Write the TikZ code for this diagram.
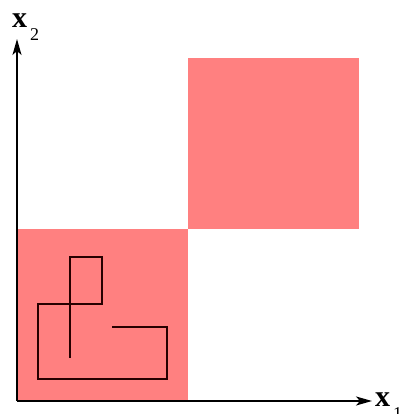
\documentclass[tikz,border=0pt]{standalone}
\usepackage{fontspec}
\setmainfont{Liberation Serif}
\usetikzlibrary{arrows.meta}
\definecolor{boxPink}{HTML}{FF8080}

\begin{document}
\begin{tikzpicture}[x=1pt, y=1pt,
    region/.style={fill=boxPink, draw=none},
    axis/.style={-{Stealth[length=16pt, width=9pt, inset=4pt]}, line width=1.3pt},
    walk/.style={line width=1.6pt, black!85!red, line join=miter},
    lbl/.style={font=\fontsize{30}{30}\selectfont, inner sep=0pt, anchor=base west}]
    \useasboundingbox (0,0) rectangle (404,414);
    \fill[region] (17,13) rectangle (188,185);
    \fill[region] (188,185) rectangle (359,356);
    \draw[walk] (70,56) -- (70,157) -- (102,157) -- (102,110) -- (38,110)
      -- (38,35) -- (167,35) -- (167,87) -- (112,87);
    \coordinate (o) at (17,13);
    \coordinate (xend) at (372,13);
    \coordinate (yend) at (17,375);
    \draw[axis] (o) -- (xend);
    \draw[axis] (o) -- (yend);
    \node[lbl] (xone) at (375,8) {\textbf{x}\hspace{3pt}\raisebox{-13pt}{\fontsize{18}{18}\selectfont 1}};
    \node[lbl] (xtwo) at (12,386) {\textbf{x}\hspace{3pt}\raisebox{-13pt}{\fontsize{18}{18}\selectfont 2}};
\end{tikzpicture}
\end{document}
